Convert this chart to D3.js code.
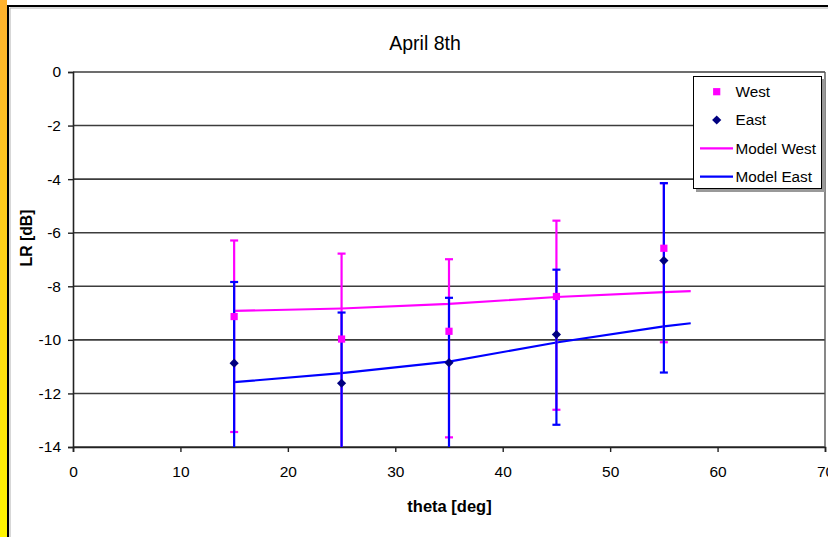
<!DOCTYPE html>
<html>
<head>
<meta charset="utf-8">
<script src="https://cdn.jsdelivr.net/npm/d3@7"></script>
<style>
  html, body { margin: 0; padding: 0; background: #fff; }
  svg { display: block; font-family: "Liberation Sans", Arial, sans-serif; }
</style>
</head>
<body>
<svg id="chart" width="828" height="537"></svg>
<script>
// ---- data ----
const theta = [15, 25, 35, 45, 55];
const westValue = [-9.13, -9.97, -9.68, -8.38, -6.58];
const westHigh  = [-6.29, -6.78, -6.99, -5.55, -4.15];
const westLow   = [-13.44, -14.6, -13.64, -12.61, -10.09];
const eastValue = [-10.87, -11.62, -10.85, -9.80, -7.04];
const eastHigh  = [-7.84, -8.98, -8.43, -7.38, -4.15];
const eastLow   = [-15.0, -15.0, -15.0, -13.17, -11.22];
const modelTheta = [15, 25, 35, 45, 55, 57.5];
const modelWest  = [-8.92, -8.83, -8.66, -8.40, -8.22, -8.18];
const modelEast  = [-11.58, -11.24, -10.81, -10.10, -9.50, -9.38];
const xTicks = [0, 10, 20, 30, 40, 50, 60, 70];
const yTicks = [0, -2, -4, -6, -8, -10, -12, -14];
const legendLabels = ["West", "East", "Model West", "Model East"];
const titleText = "April 8th";
const xTitle = "theta [deg]";
const yTitle = "LR [dB]";

const svg = d3.select("#chart");
const W = 828, H = 537;
const x = d3.scaleLinear().domain([0, 70]).range([73, 825]);
const y = d3.scaleLinear().domain([-14, 0]).range([447, 72]);
const fmt = d => String(d).replace("\u2212", "-");

// ---- frame / background ----
const defs = svg.append("defs");
const grad = defs.append("linearGradient").attr("id", "strip").attr("x1", 0).attr("y1", 0).attr("x2", 0).attr("y2", 1);
grad.append("stop").attr("offset", "0%").attr("stop-color", "#FFB22E");
grad.append("stop").attr("offset", "100%").attr("stop-color", "#FFF500");
svg.append("rect").attr("x", 0).attr("y", 0).attr("width", 7).attr("height", H).attr("fill", "url(#strip)");
svg.append("path").attr("d", `M8,${H} V6 H${W}`).attr("fill", "none").attr("stroke", "#000").attr("stroke-width", 2);
svg.append("path").attr("d", `M10,${H} V8 H${W}`).attr("fill", "none").attr("stroke", "#b0b0b0").attr("stroke-width", 1);

const clip = defs.append("clipPath").attr("id", "plotclip");
clip.append("rect").attr("x", x(0)).attr("y", y(0)).attr("width", x(70) - x(0)).attr("height", y(-14) - y(0));

// ---- gridlines ----
svg.append("g").selectAll("line").data(yTicks).join("line")
  .attr("x1", x(0)).attr("x2", x(70))
  .attr("y1", d => y(d)).attr("y2", d => y(d))
  .attr("stroke", "#3c3c3c").attr("stroke-width", 1.6);
svg.append("line").attr("x1", x(70)).attr("x2", x(70)).attr("y1", y(0)).attr("y2", y(-14))
  .attr("stroke", "#555").attr("stroke-width", 1.4);

// ---- axes ----
const xAxis = d3.axisBottom(x).tickValues(xTicks).tickSize(5).tickPadding(14).tickFormat(fmt);
const gx = svg.append("g").attr("transform", `translate(0,${y(-14)})`).call(xAxis);
gx.select(".domain").attr("stroke", "#222").attr("stroke-width", 1.6);
gx.selectAll(".tick line").attr("stroke", "#222").attr("stroke-width", 1.4);
gx.selectAll(".tick text").attr("font-size", "15.5px").attr("fill", "#000").attr("font-family", "Liberation Sans, Arial, sans-serif");

const yAxis = d3.axisLeft(y).tickValues(yTicks).tickSize(5).tickPadding(7).tickFormat(fmt);
const gy = svg.append("g").attr("transform", `translate(${x(0)},0)`).call(yAxis);
gy.select(".domain").attr("stroke", "#222").attr("stroke-width", 1.6);
gy.selectAll(".tick line").attr("stroke", "#222").attr("stroke-width", 1.4);
gy.selectAll(".tick text").attr("font-size", "15.5px").attr("fill", "#000").attr("font-family", "Liberation Sans, Arial, sans-serif");

// ---- model lines ----
const plot = svg.append("g").attr("clip-path", "url(#plotclip)");
const line = d3.line().x(d => x(d[0])).y(d => y(d[1]));
plot.append("path").datum(modelTheta.map((t, i) => [t, modelWest[i]]))
  .attr("d", line).attr("fill", "none").attr("stroke", "#FF00FF").attr("stroke-width", 2.2);
plot.append("path").datum(modelTheta.map((t, i) => [t, modelEast[i]]))
  .attr("d", line).attr("fill", "none").attr("stroke", "#0000FF").attr("stroke-width", 2.2);

// ---- error bars ----
function errorBars(lo, hi, color) {
  const g = plot.append("g").attr("stroke", color).attr("stroke-width", 2.2);
  const data = theta.map((t, i) => ({ t, lo: lo[i], hi: hi[i] }));
  g.selectAll("line.v").data(data).join("line").attr("class", "v")
    .attr("x1", d => x(d.t)).attr("x2", d => x(d.t))
    .attr("y1", d => y(d.lo)).attr("y2", d => y(d.hi));
  g.selectAll("line.ch").data(data).join("line").attr("class", "ch")
    .attr("x1", d => x(d.t) - 4).attr("x2", d => x(d.t) + 4)
    .attr("y1", d => y(d.hi)).attr("y2", d => y(d.hi));
  g.selectAll("line.cl").data(data).join("line").attr("class", "cl")
    .attr("x1", d => x(d.t) - 4).attr("x2", d => x(d.t) + 4)
    .attr("y1", d => y(d.lo)).attr("y2", d => y(d.lo));
}
errorBars(westLow, westHigh, "#FF00FF");
errorBars(eastLow, eastHigh, "#0000FF");

// ---- markers ----
const sq = d3.symbol().type(d3.symbolSquare).size(52);
const dia = "M0,-4.6L4.6,0L0,4.6L-4.6,0Z";
plot.append("g").selectAll("path").data(theta.map((t, i) => [t, westValue[i]])).join("path")
  .attr("d", sq).attr("transform", d => `translate(${x(d[0])},${y(d[1])})`).attr("fill", "#FF00FF");
plot.append("g").selectAll("path").data(theta.map((t, i) => [t, eastValue[i]])).join("path")
  .attr("d", dia).attr("transform", d => `translate(${x(d[0])},${y(d[1])})`).attr("fill", "#000080");

// ---- titles ----
svg.append("text").attr("x", 425).attr("y", 50).attr("text-anchor", "middle")
  .attr("font-size", "19.5px").attr("fill", "#000").text(titleText);
svg.append("text").attr("x", 449.5).attr("y", 512).attr("text-anchor", "middle")
  .attr("font-size", "16.5px").attr("font-weight", "bold").attr("fill", "#000").text(xTitle);
svg.append("text").attr("transform", "translate(32,238) rotate(-90)").attr("text-anchor", "middle")
  .attr("font-size", "15.8px").attr("font-weight", "bold").attr("fill", "#000").text(yTitle);

// ---- legend ----
const lg = svg.append("g");
lg.append("rect").attr("x", 696).attr("y", 79).attr("width", 129).attr("height", 113).attr("fill", "#999");
lg.append("rect").attr("x", 693.5).attr("y", 76.5).attr("width", 128).attr("height", 112)
  .attr("fill", "#fff").attr("stroke", "#000").attr("stroke-width", 1);
const rowY = [91.7, 120, 148.3, 176.7];
const items = lg.selectAll("g.item").data(legendLabels).join("g").attr("class", "item")
  .attr("transform", (d, i) => `translate(0,${rowY[i]})`);
items.append("text").attr("x", 735.5).attr("y", 5.3).attr("font-size", "15.3px").attr("fill", "#000").text(d => d);
items.filter((d, i) => i === 0).append("path").attr("d", sq).attr("transform", "translate(716.7,0)").attr("fill", "#FF00FF");
items.filter((d, i) => i === 1).append("path").attr("d", dia).attr("transform", "translate(716.7,0)").attr("fill", "#000080");
items.filter((d, i) => i === 2).append("line").attr("x1", 700).attr("x2", 733).attr("y1", 0).attr("y2", 0)
  .attr("stroke", "#FF00FF").attr("stroke-width", 2.2);
items.filter((d, i) => i === 3).append("line").attr("x1", 700).attr("x2", 733).attr("y1", 0).attr("y2", 0)
  .attr("stroke", "#0000FF").attr("stroke-width", 2.2);
</script>
</body>
</html>
